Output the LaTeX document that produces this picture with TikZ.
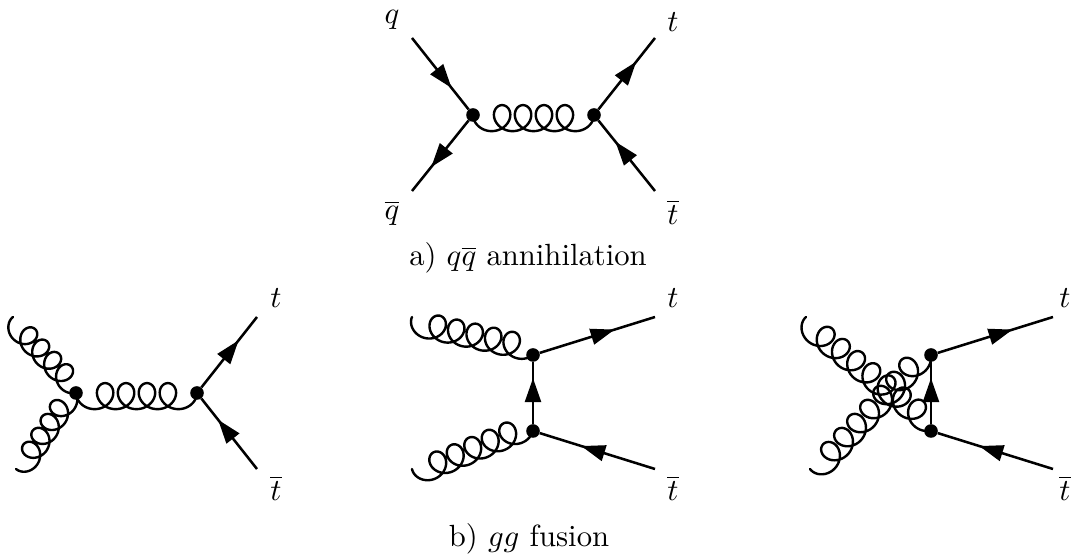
\documentclass[tikz,border=0pt]{standalone}
\usetikzlibrary{calc,arrows.meta,decorations.markings}
\newcommand{\lb}[1]{\scalebox{2.3}{#1}}
\tikzset{
  vertex/.style={circle,fill=black,inner sep=0pt,minimum size=10.2pt},
  lab/.style={inner sep=0pt},
  fermionline/.style={line width=1.9pt,postaction={decorate},
    decoration={markings,mark=at position #1 with {\arrow{Triangle[length=18pt,width=12pt]}}}},
  gluonline/.style={line width=1.8pt,line join=round,line cap=round},
}
% \gluonlink{from}{to}{loops}{radius}{start angle}{end angle}: loops lie left of the direction
\newcommand{\gluonlink}[6]{%
  \path let \p1=($(#2)-(#1)$), \n1={veclen(\x1,\y1)/0.75}, \n2={atan2(\y1,\x1)} in
    \pgfextra{\xdef\glen{\n1}\xdef\gang{\n2}};
  \pgfmathsetmacro{\gr}{#4}
  \pgfmathsetmacro{\ga}{#5}
  \pgfmathsetmacro{\gb}{#6}
  \pgfmathsetmacro{\gdy}{\gr*(cos(\ga)-cos(\gb))}
  \pgfmathsetmacro{\gq}{\gdy/\glen}
  \pgfmathsetmacro{\gdx}{\glen*sqrt(1-\gq*\gq)}
  \pgfmathsetmacro{\gp}{(\gdx-\gr*(sin(\ga)+sin(\gb)))/(#3+(\ga+\gb)/360)}
  \pgfmathsetmacro{\gx}{\gp*\ga/360+\gr*sin(\ga)}
  \pgfmathsetmacro{\gy}{\gr*cos(\ga)}
  \pgfmathsetmacro{\grot}{\gang-atan2(\gdy,\gdx)}
  \pgfmathsetmacro{\gend}{360*#3+\gb}
  \draw[gluonline,shift={(#1)},rotate=\grot]
    plot[domain=-\ga:\gend,samples=260,smooth,variable=\s]
    ({\gx+\s/360*\gp+\gr*sin(\s)},{-\gr*cos(\s)+\gy});
}
\begin{document}
\begin{tikzpicture}[x=0.75pt,y=0.75pt]
\useasboundingbox (0,0) rectangle (1071,556);
% --- a) annihilation
\node[vertex] (v1) at (473,441) {};
\node[vertex] (v2) at (594,441) {};
\coordinate (q) at (412,518);
\coordinate (qb) at (412,365);
\coordinate (t1) at (655,518);
\coordinate (tb1) at (655,365);
\draw[fermionline=.70] (q) -- (v1);
\draw[fermionline=.66] (v1) -- (qb);
\draw[fermionline=.67] (v2) -- (t1);
\draw[fermionline=.70] (tb1) -- (v2);
\gluonlink{v1}{v2}{4}{13}{104}{104}
\node[lab] (lq) at (392,536) {\lb{$q$}};
\node[lab] (lqb) at (392,343) {\lb{$\overline{q}$}};
\node[lab] (lt1) at (673,534) {\lb{$t$}};
\node[lab] (ltb1) at (673,344) {\lb{$\overline{t}$}};
\node[lab] (capa) at (528,298) {\lb{a) $q\overline{q}$ annihilation}};
% --- b) s channel
\node[vertex] (v3) at (76,163) {};
\node[vertex] (v4) at (197,163) {};
\coordinate (g1) at (13,239);
\coordinate (g2) at (16,87);
\coordinate (t2) at (257,239);
\coordinate (tb2) at (257,87);
\draw[fermionline=.67] (v4) -- (t2);
\draw[fermionline=.70] (tb2) -- (v4);
\gluonlink{v3}{v4}{4}{13}{104}{104}
\gluonlink{g1}{v3}{4}{11.3}{110}{70}
\gluonlink{g2}{v3}{4}{11.3}{110}{70}
\node[lab] (lt2) at (276,258) {\lb{$t$}};
\node[lab] (ltb2) at (276,68) {\lb{$\overline{t}$}};
% --- b) t channel
\node[vertex] (v5) at (533,201) {};
\node[vertex] (v6) at (533,125) {};
\coordinate (g3) at (412,239);
\coordinate (g4) at (412,87);
\coordinate (t3) at (655,239);
\coordinate (tb3) at (655,87);
\draw[fermionline=.65] (v5) -- (t3);
\draw[fermionline=.64] (tb3) -- (v6);
\draw[fermionline=.74] (v6) -- (v5);
\gluonlink{g3}{v5}{5}{12.5}{115}{62}
\gluonlink{g4}{v6}{5}{12.5}{115}{62}
\node[lab] (lt3) at (673,258) {\lb{$t$}};
\node[lab] (ltb3) at (673,68) {\lb{$\overline{t}$}};
\node[lab] (capb) at (529,17) {\lb{b) $gg$ fusion}};
% --- b) u channel
\node[vertex] (v7) at (931,201) {};
\node[vertex] (v8) at (931,125) {};
\coordinate (g5) at (806,239);
\coordinate (g6) at (810,87);
\coordinate (t4) at (1053,239);
\coordinate (tb4) at (1053,87);
\draw[fermionline=.65] (v7) -- (t4);
\draw[fermionline=.64] (tb4) -- (v8);
\draw[fermionline=.74] (v8) -- (v7);
\gluonlink{g5}{v8}{7}{12.5}{115}{62}
\gluonlink{g6}{v7}{7}{12.5}{115}{62}
\node[lab] (lt4) at (1065,258) {\lb{$t$}};
\node[lab] (ltb4) at (1065,68) {\lb{$\overline{t}$}};
\end{tikzpicture}
\end{document}
